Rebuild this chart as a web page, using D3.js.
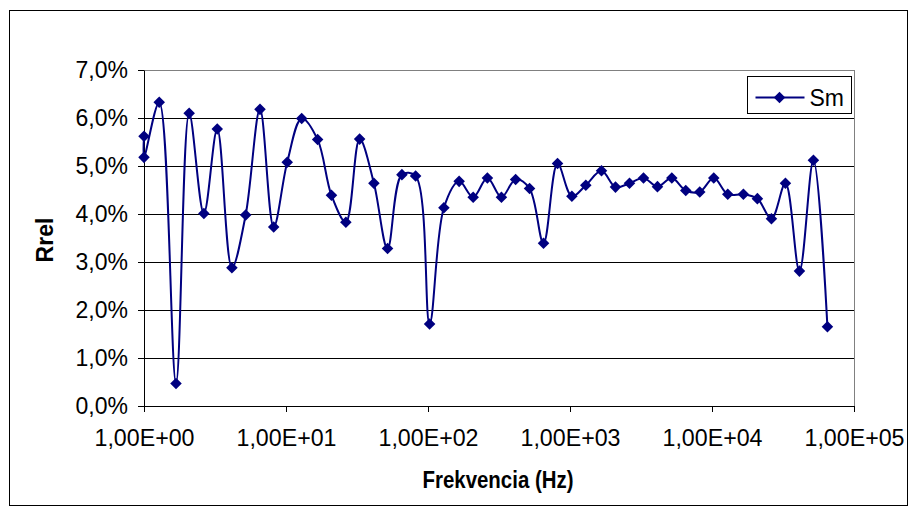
<!DOCTYPE html>
<html>
<head>
<meta charset="utf-8">
<script src="https://cdn.jsdelivr.net/npm/d3@7"></script>
<style>
    html, body { margin: 0; padding: 0; background: #fff; }
    svg { display: block; font-family: "Liberation Sans", Arial, sans-serif; }
</style>
</head>
<body>
<svg id="chart" width="911" height="514"></svg>
<script>
'use strict';

// frekvencia (Hz)
const frequencies = [
    1, 1, 1.28, 1.68, 2.08, 2.64, 3.28, 4.16, 5.2, 6.56, 8.19,
    10.2, 12.9, 16.7, 20.9, 26.4, 33.0, 41.6, 51.9, 65.5, 81.8,
    102.6, 129.4, 165.7, 208, 262, 329, 414, 519, 651, 817,
    1031, 1292, 1667, 2091, 2624, 3293, 4130, 5212, 6535, 8200,
    10290, 12910, 16640, 20880, 26220, 32900, 41280, 51780, 65000
];
// Rrel (%), series "Sm"
const sm_values = [
    5.62, 5.18, 6.33, 0.47, 6.10, 4.01, 5.77, 2.88, 3.98, 6.18, 3.73,
    5.08, 5.99, 5.55, 4.39, 3.83, 5.56, 4.64, 3.28, 4.82, 4.79,
    1.71, 4.13, 4.68, 4.35, 4.75, 4.35, 4.72, 4.53, 3.39, 5.05,
    4.37, 4.60, 4.90, 4.56, 4.64, 4.75, 4.57, 4.75, 4.49, 4.46,
    4.75, 4.41, 4.41, 4.32, 3.90, 4.64, 2.81, 5.12, 1.65
];
const x_ticks = [1, 10, 100, 1000, 10000, 100000];
const x_tick_labels = ['1,00E+00', '1,00E+01', '1,00E+02', '1,00E+03', '1,00E+04', '1,00E+05'];
const y_ticks = [0, 1, 2, 3, 4, 5, 6, 7];
const series_name = 'Sm';
const x_title = 'Frekvencia (Hz)', y_title = 'Rrel';

const navy = '#000080';
const margin = {top: 70, left: 144, right: 57, bottom: 108};
const width = 911, height = 514;
const content_width = width - margin.left - margin.right;
const content_height = height - margin.top - margin.bottom;

const svg = d3.select('#chart');

// outer chart frame
svg.append('rect')
    .attr('x', 9.5).attr('y', 10.5)
    .attr('width', 898).attr('height', 495)
    .attr('fill', '#fff')
    .attr('stroke', '#000');

const x_scale = d3.scaleLog().domain([1, 100000]).range([0, content_width]);
const y_scale = d3.scaleLinear().domain([0, 7]).range([content_height, 0]);

const content = svg.append('g')
    .attr('transform', `translate(${margin.left},${margin.top})`);

content.append('rect')
    .attr('x', 0.5).attr('y', 0.5)
    .attr('width', content_width).attr('height', content_height)
    .attr('fill', 'none')
    .attr('stroke', '#808080');

// horizontal gridlines
content.append('g')
    .selectAll('line')
    .data(y_ticks.filter(d => d > 0 && d < 7))
    .join('line')
    .attr('x1', 0).attr('x2', content_width)
    .attr('y1', d => Math.round(y_scale(d)) + 0.5)
    .attr('y2', d => Math.round(y_scale(d)) + 0.5)
    .attr('stroke', '#000');

const x_axis = d3.axisBottom(x_scale)
    .tickValues(x_ticks)
    .tickFormat((d, i) => x_tick_labels[i])
    .tickSizeInner(6)
    .tickSizeOuter(0)
    .tickPadding(18);
const y_axis = d3.axisLeft(y_scale)
    .tickValues(y_ticks)
    .tickFormat(d => d3.format('.1f')(d).replace('.', ',') + '%')
    .tickSizeInner(6)
    .tickSizeOuter(0)
    .tickPadding(10);

const gx = content.append('g')
    .attr('class', 'x axis')
    .attr('transform', `translate(0,${content_height})`)
    .call(x_axis);
gx.selectAll('text')
    .attr('font-size', 23)
    .attr('fill', '#000')
    .attr('textLength', 100)
    .attr('lengthAdjust', 'spacingAndGlyphs');

const gy = content.append('g')
    .attr('class', 'y axis')
    .call(y_axis);
gy.selectAll('text')
    .attr('font-size', 23)
    .attr('fill', '#000');

content.selectAll('.axis path, .axis line').attr('stroke', '#000');

// smoothed series line with diamond markers
const line = d3.line()
    .x(d => x_scale(d[0]))
    .y(d => y_scale(d[1]))
    .curve(d3.curveCatmullRom.alpha(0.5));
const points = frequencies.map((f, i) => [f, sm_values[i]]);

content.append('path')
    .datum(points)
    .attr('d', line)
    .attr('fill', 'none')
    .attr('stroke', navy)
    .attr('stroke-width', 2);

const diamond = d3.symbol().type(d3.symbolDiamond2).size(85);
content.selectAll('.point')
    .data(points)
    .join('path')
    .attr('class', 'point')
    .attr('d', diamond)
    .attr('transform', d => `translate(${x_scale(d[0])},${y_scale(d[1])})`)
    .attr('fill', navy);

// axis titles
svg.append('text')
    .attr('x', 498).attr('y', 488)
    .attr('text-anchor', 'middle')
    .attr('font-size', 23)
    .attr('font-weight', 'bold')
    .attr('textLength', 151)
    .attr('lengthAdjust', 'spacingAndGlyphs')
    .text(x_title);
svg.append('text')
    .attr('transform', 'translate(53,240) rotate(-90)')
    .attr('text-anchor', 'middle')
    .attr('font-size', 23)
    .attr('font-weight', 'bold')
    .text(y_title);

// legend
const legend = svg.append('g').attr('transform', 'translate(747.5,76.5)');
legend.append('rect')
    .attr('width', 104).attr('height', 37)
    .attr('fill', '#fff')
    .attr('stroke', '#000');
legend.append('line')
    .attr('x1', 8).attr('x2', 57)
    .attr('y1', 21).attr('y2', 21)
    .attr('stroke', navy)
    .attr('stroke-width', 2);
legend.append('path')
    .attr('d', diamond)
    .attr('transform', 'translate(32,21)')
    .attr('fill', navy);
legend.append('text')
    .attr('x', 62).attr('y', 29)
    .attr('font-size', 23)
    .text(series_name);
</script>
</body>
</html>
